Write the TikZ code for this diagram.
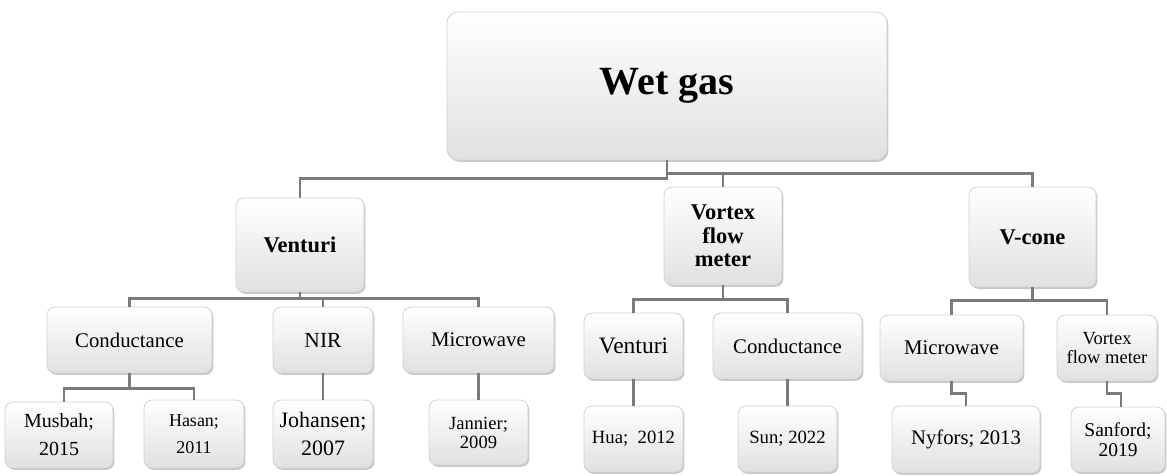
\documentclass[tikz,border=0pt]{standalone}
\usepackage{fontspec}
\setmainfont{Liberation Serif}
\usetikzlibrary{shadows}
\tikzset{
  box/.style={draw=black!18, line width=0.8pt, rounded corners=8pt,
    top color=white, middle color=white, bottom color=black!12,
    drop shadow={shadow xshift=1.4pt, shadow yshift=-1.8pt, fill=black!40, opacity=0.55},
    align=center, inner sep=2pt},
  conn/.style={draw=black!52, line width=2.3pt},
  fbig/.style={font=\fontsize{40}{44}\selectfont\bfseries},
  fmid/.style={font=\fontsize{22.5}{23.5}\selectfont\bfseries},
  fsub/.style={font=\fontsize{20.8}{25}\selectfont},
}
\begin{document}
\begin{tikzpicture}[x=1pt, y=-1pt]
\useasboundingbox (0,0) rectangle (1167,475);
% level 1
\node[box, fbig, rounded corners=11pt, minimum width=440pt, minimum height=148pt] (wet) at (667,86) {Wet gas};
% level 2
\node[box, fmid, minimum width=128pt, minimum height=94pt] (venturi) at (300,245) {Venturi};
\node[box, fmid, minimum width=118pt, minimum height=98pt] (vortex) at (723,236) {Vortex\\flow\\meter};
\node[box, fmid, minimum width=127pt, minimum height=100pt] (vcone) at (1032.5,237) {V-cone};
% level 3
\node[box, fsub, minimum width=165pt, minimum height=66pt] (cond1) at (129.5,340) {Conductance};
\node[box, fsub, font=\fontsize{21.5}{25}\selectfont, minimum width=100pt, minimum height=66pt] (nir) at (323,340) {NIR};
\node[box, fsub, minimum width=151pt, minimum height=66pt] (micro1) at (478.5,340) {Microwave};
\node[box, fsub, font=\fontsize{23.5}{25}\selectfont, minimum width=99pt, minimum height=66pt] (venturi2) at (633.5,346) {Venturi};
\node[box, fsub, minimum width=149pt, minimum height=66pt] (cond2) at (787.5,346) {Conductance};
\node[box, fsub, minimum width=143pt, minimum height=66pt] (micro2) at (951.5,348) {Microwave};
\node[box, font=\fontsize{18.5}{18.5}\selectfont, minimum width=100pt, minimum height=66pt] (vfm2) at (1107,348) {Vortex\\flow meter};
% level 4
\node[box, font=\fontsize{20}{28}\selectfont, minimum width=108pt, minimum height=66pt] (musbah) at (59,435) {Musbah;\\2015};
\node[box, font=\fontsize{18}{27}\selectfont, minimum width=100pt, minimum height=68pt] (hasan) at (194,434) {Hasan;\\2011};
\node[box, font=\fontsize{22}{28}\selectfont, minimum width=100pt, minimum height=68pt] (johansen) at (323,434) {Johansen;\\2007};
\node[box, font=\fontsize{18.6}{19}\selectfont, minimum width=99pt, minimum height=65pt] (jannier) at (478.5,432.5) {Jannier;\\2009};
\node[box, font=\fontsize{18.7}{22}\selectfont, minimum width=99pt, minimum height=66pt] (hua) at (633.5,439) {Hua;\ \ 2012};
\node[box, font=\fontsize{18.7}{22}\selectfont, minimum width=99pt, minimum height=66pt] (sun) at (787.5,439) {Sun; 2022};
\node[box, font=\fontsize{20.7}{24}\selectfont, minimum width=148pt, minimum height=67pt] (nyfors) at (966,439.5) {Nyfors; 2013};
\node[box, font=\fontsize{19.5}{20}\selectfont, minimum width=94pt, minimum height=65pt] (sanford) at (1118,439.5) {Sanford;\\2019};
% connectors
\draw[conn] (wet.south) -- ++(0,18) -| (venturi.north);
\draw[conn] (wet.south) -- ++(0,13) -| (vortex.north);
\draw[conn] (wet.south) -- ++(0,13) -| (vcone.north);
\draw[conn] (venturi.south) -- ++(0,6) -| (cond1.north);
\draw[conn] (venturi.south) -- ++(0,6) -| (nir.north);
\draw[conn] (venturi.south) -- ++(0,6) -| (micro1.north);
\draw[conn] (cond1.south) -- ++(0,15) -| ([xshift=5pt]musbah.north);
\draw[conn] (cond1.south) -- ++(0,15) -| (hasan.north);
\draw[conn] (nir.south) -- (johansen.north);
\draw[conn] (micro1.south) -- (jannier.north);
\draw[conn] (vortex.south) -- ++(0,14) -| (venturi2.north);
\draw[conn] (vortex.south) -- ++(0,14) -| (cond2.north);
\draw[conn] (venturi2.south) -- (hua.north);
\draw[conn] (cond2.south) -- (sun.north);
\draw[conn] (vcone.south) -- ++(0,13) -| (micro2.north);
\draw[conn] (vcone.south) -- ++(0,13) -| (vfm2.north);
\draw[conn] (micro2.south) -- ++(0,12) -| (nyfors.north);
\draw[conn] (vfm2.south) -- ++(0,12) -| ([xshift=3pt]sanford.north);
\end{tikzpicture}
\end{document}
